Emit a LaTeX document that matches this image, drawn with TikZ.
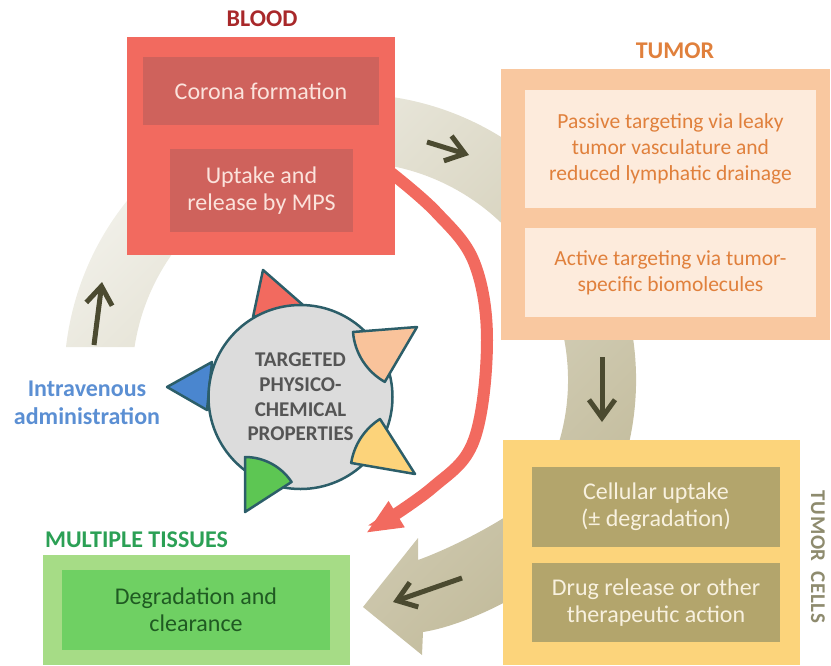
\documentclass[tikz,border=0pt]{standalone}
\usepackage{fontspec}
\setmainfont{Carlito}
\usetikzlibrary{arrows.meta}

\definecolor{bloodout}{HTML}{F26A5F}
\definecolor{bloodin}{HTML}{CF625C}
\definecolor{bloodtext}{HTML}{FBE3DC}
\definecolor{bloodlabel}{HTML}{A8282A}
\definecolor{tumorout}{HTML}{F9C8A0}
\definecolor{tumorin}{HTML}{FDEBDC}
\definecolor{tumortext}{HTML}{E0803C}
\definecolor{cellsout}{HTML}{FCD47B}
\definecolor{cellsin}{HTML}{B3A56C}
\definecolor{cellstext}{HTML}{F8F1DF}
\definecolor{cellslabel}{HTML}{8E8B6E}
\definecolor{tissueout}{HTML}{A6DC86}
\definecolor{tissuein}{HTML}{6FD063}
\definecolor{tissuetext}{HTML}{1F5A22}
\definecolor{tissuelabel}{HTML}{2BA055}
\definecolor{ivblue}{HTML}{5B8FD3}
\definecolor{bandlight}{HTML}{F1F0E9}
\definecolor{banddark}{HTML}{C2BB9B}
\definecolor{banddarrow}{HTML}{4B4A30}
\definecolor{coregray}{HTML}{DCDCDC}
\definecolor{coreline}{HTML}{2C5E69}
\definecolor{coretext}{HTML}{555555}
\definecolor{ligandred}{HTML}{F26A5F}
\definecolor{ligandpeach}{HTML}{F9C39B}
\definecolor{ligandyellow}{HTML}{FCD37A}
\definecolor{ligandgreen}{HTML}{5DC653}
\definecolor{ligandblue}{HTML}{4A86CF}

\newcommand{\boxfont}{\fontsize{24}{27}\selectfont}
\newcommand{\tumorfont}{\fontsize{21.5}{26}\selectfont}
\newcommand{\labelfont}{\fontsize{24}{27}\selectfont\bfseries}

\tikzset{
  panel/.style={inner sep=0pt, outer sep=0pt},
  cell/.style={inner sep=0pt, outer sep=0pt, align=center, font=\boxfont},
  heading/.style={inner sep=0pt, font=\labelfont},
  bandstep/.style={draw=banddarrow, line width=5, -{Straight Barb[length=18pt, width=26pt]}},
  bloodflow/.style={draw=bloodout, line width=12, -{Triangle[length=36pt, width=28pt]}},
  ligand/.style={draw=coreline, line width=2.5, line join=round}
}

\begin{document}
\begin{tikzpicture}[x=1pt, y=-1pt]
        \useasboundingbox (0,0) rectangle (831,665);

        % Band
        \path[top color=bandlight, bottom color=banddark, shading angle=45]
            (66,347) arc[start angle=186.6, end angle=390, radius=286]
            .. controls (565,580) and (470,625) .. (423,632)
            -- (422,655) -- (363,607) -- (418,538) -- (418,560)
            .. controls (460,545) and (528,508) .. (538.8,489)
            arc[start angle=390, end angle=188.7, radius=218] -- cycle;

        % Boxes
        \node (blood) [panel, fill=bloodout, minimum width=268, minimum height=218] at (261,146) {};
        \node (corona) [cell, fill=bloodin, text=bloodtext, minimum width=236, minimum height=68] at (261,91) {Corona formation};
        \node (mps) [cell, fill=bloodin, text=bloodtext, minimum width=183, minimum height=83] at (261.5,190.5) {Uptake and\\release by MPS};

        \node (tumor) [panel, fill=tumorout, minimum width=329, minimum height=271] at (665.5,204.5) {};
        \node (passive) [cell, fill=tumorin, text=tumortext, font=\tumorfont, minimum width=291, minimum height=118] at (670.5,149) {Passive targeting via leaky\\tumor vasculature and\\reduced lymphatic drainage};
        \node (active) [cell, fill=tumorin, text=tumortext, font=\tumorfont, minimum width=291, minimum height=89] at (670.5,272.5) {Active targeting via tumor-\\specific biomolecules};

        \node (cells) [panel, fill=cellsout, minimum width=297, minimum height=225] at (651.5,552.5) {};
        \node (uptake) [cell, fill=cellsin, text=cellstext, minimum width=248, minimum height=80] at (656,507) {Cellular uptake\\(± degradation)};
        \node (release) [cell, fill=cellsin, text=cellstext, minimum width=248, minimum height=79] at (656,602.5) {Drug release or other\\therapeutic action};

        \node (tissues) [panel, fill=tissueout, minimum width=307, minimum height=110] at (196.5,610) {};
        \node (clearance) [cell, fill=tissuein, text=tissuetext, minimum width=268, minimum height=80] at (196,610) {Degradation and\\clearance};

        % Labels
        \node (bloodname) [heading, text=bloodlabel] at (262,19) {BLOOD};
        \node (tumorname) [heading, text=tumortext] at (675,51) {TUMOR};
        \node (tissuesname) [heading, text=tissuelabel] at (136.5,539.5) {MULTIPLE TISSUES};
        \node (cellsname) [heading, text=cellslabel, rotate=-90, font=\fontsize{21}{24}\selectfont\bfseries\addfontfeatures{LetterSpace=3}] at (818,557) {TUMOR\hspace{10pt}CELLS};
        \node (ivname) [heading, text=ivblue, align=center, font=\fontsize{24}{28}\selectfont\bfseries] at (87,403) {Intravenous\\administration};

        % Band arrows
        \coordinate (ivtail) at (94,345);
        \coordinate (ivhead) at (102,282);
        \coordinate (toptail) at (427,142);
        \coordinate (tophead) at (469,155);
        \coordinate (righttail) at (602,357);
        \coordinate (righthead) at (602,422);
        \coordinate (lowtail) at (462,578);
        \coordinate (lowhead) at (393,602);
        \draw[bandstep] (ivtail) -- (ivhead);
        \draw[bandstep] (toptail) -- (tophead);
        \draw[bandstep] (righttail) -- (righthead);
        \draw[bandstep] (lowtail) -- (lowhead);

        % Blood to tissues
        \coordinate (bloodexit) at (390,172);
        \coordinate (redtip) at (366,533);
        \draw[bloodflow] plot[smooth, tension=0.6] coordinates {(bloodexit) (436,212) (474,262) (487,340) (474,440) (432,488) (redtip)};

        % Particle
        \fill[ligandred, ligand] (263,270) -- (303,305) -- (253,317) -- cycle;
        \fill[ligandblue, ligand] (167,387) -- (212,362) -- (207,410) -- cycle;
        \node (core) [circle, draw=coreline, line width=2.5, fill=coregray, minimum size=184, inner sep=0pt, align=center, text=coretext, font=\fontsize{21}{24.7}\selectfont\bfseries] at (300.5,397) {TARGETED\\PHYSICO-\\CHEMICAL\\PROPERTIES};
        \fill[ligandpeach, ligand] (417,327) -- (353,332) arc[start angle=175.5, end angle=119.5, radius=63] -- cycle;
        \fill[ligandyellow, ligand] (415,474) -- (380,419) arc[start angle=237.5, end angle=189, radius=64] -- cycle;
        \fill[ligandgreen, ligand] (245,512) -- (245,457) arc[start angle=270, end angle=326.3, radius=56] -- cycle;
\end{tikzpicture}
\end{document}
